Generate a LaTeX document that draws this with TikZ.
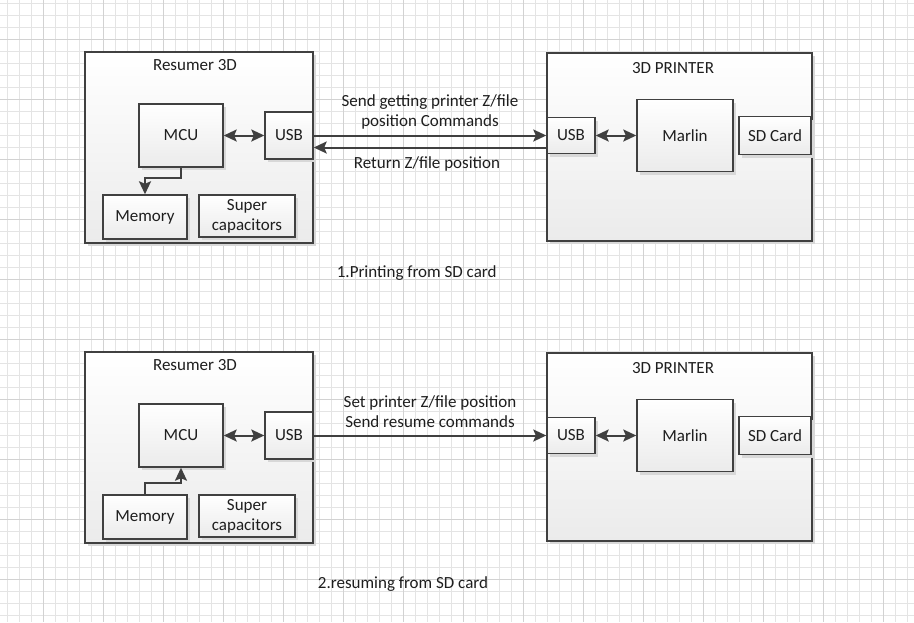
\documentclass[tikz,border=0pt]{standalone}
\usepackage{fontspec}
\setmainfont{Carlito}
\usetikzlibrary{arrows.meta,shadows,calc}
\definecolor{linegray}{HTML}{404040}
\definecolor{txtgray}{HTML}{1E1E1E}
\definecolor{boxbot}{HTML}{EBEBEB}
\definecolor{shadowgray}{HTML}{D8D8D8}
\definecolor{gridminor}{HTML}{E4E4E4}
\definecolor{gridmajor}{HTML}{D2D2D2}
\tikzset{
  blk/.style={draw=linegray, line width=1.4pt, top color=white, bottom color=boxbot,
    drop shadow={shadow xshift=3pt, shadow yshift=-3pt, fill=shadowgray, opacity=1},
    inner sep=0pt, text=txtgray, align=center, font=\fontsize{17}{20}\selectfont},
  lbl/.style={text=txtgray, align=center, inner sep=0pt, font=\fontsize{17}{20}\selectfont},
  tip/.style={Stealth[length=13pt,width=12pt,inset=2.5pt]},
  conn/.style={draw=linegray, line width=2pt, -{Stealth[length=13pt,width=12pt,inset=2.5pt]}},
  dconn/.style={draw=linegray, line width=2pt, {Stealth[length=13pt,width=12pt,inset=2.5pt]}-{Stealth[length=13pt,width=12pt,inset=2.5pt]}},
}
\begin{document}
\begin{tikzpicture}[x=1pt,y=-1pt]
\useasboundingbox (0,0) rectangle (914,622);
\fill[white] (0,0) rectangle (914,622);
% grid
\foreach \i in {0,...,75} {\draw[gridminor, line width=1pt] ({7.3+12*\i},0) -- ({7.3+12*\i},622);}
\foreach \i in {0,...,51} {\draw[gridminor, line width=1pt] (0,{3.3+12*\i}) -- (914,{3.3+12*\i});}
\foreach \i in {0,...,14} {\draw[gridmajor, line width=1pt] ({43.3+60*\i},0) -- ({43.3+60*\i},622);}
\foreach \i in {0,...,9} {\draw[gridmajor, line width=1pt] (0,{39.3+60*\i}) -- (914,{39.3+60*\i});}

% ===== Diagram 1 =====
\node[blk, minimum width=228pt, minimum height=191pt] (R1) at (199,147.5) {};
\node[lbl] (R1t) at (195,65) {Resumer 3D};
\node[blk, minimum width=84pt, minimum height=63pt] (MCU1) at (181,135.5) {MCU};
\node[blk, minimum width=48pt, minimum height=47pt] (USBa1) at (289,135.5) {USB};
\node[blk, minimum width=84pt, minimum height=44pt] (MEM1) at (145,217) {Memory};
\node[blk, minimum width=96pt, minimum height=42pt] (SC1) at (247,216) {Super\\capacitors};

\node[blk, minimum width=265pt, minimum height=188pt] (P1) at (679.5,147) {};
\node[lbl] (P1t) at (673,68) {3D PRINTER};
\node[blk, minimum width=48pt, minimum height=36pt] (USBb1) at (571,135.5) {USB};
\node[blk, minimum width=96pt, minimum height=72pt] (MAR1) at (685,135.5) {Marlin};
\node[blk, minimum width=72pt, minimum height=38pt] (SD1) at (775,135.5) {SD Card};

\draw[dconn] (MCU1.east) -- (USBa1.west);
\draw[dconn] (USBb1.east) -- (MAR1.west);
\draw[conn] (MCU1.south) -- ++(0,10) -| (MEM1.north);
\draw[conn] (USBa1.east) -- (USBb1.west);
\draw[conn] ([yshift=-12pt]USBb1.west) -- ([yshift=-12pt]USBa1.east);
\node[lbl] (L1a) at (430,111.7) {Send getting printer Z/file\\position Commands};
\node[lbl] (L1b) at (427,164) {Return Z/file position};
\node[lbl] (C1) at (416.7,273) {1.Printing from SD card};

% ===== Diagram 2 =====
\node[blk, minimum width=228pt, minimum height=191pt] (R2) at (199,447.5) {};
\node[lbl] (R2t) at (195,365) {Resumer 3D};
\node[blk, minimum width=84pt, minimum height=63pt] (MCU2) at (181,435.5) {MCU};
\node[blk, minimum width=48pt, minimum height=47pt] (USBa2) at (289,435.5) {USB};
\node[blk, minimum width=84pt, minimum height=44pt] (MEM2) at (145,517) {Memory};
\node[blk, minimum width=96pt, minimum height=42pt] (SC2) at (247,516) {Super\\capacitors};

\node[blk, minimum width=265pt, minimum height=188pt] (P2) at (679.5,447) {};
\node[lbl] (P2t) at (673,368) {3D PRINTER};
\node[blk, minimum width=48pt, minimum height=36pt] (USBb2) at (571,435.5) {USB};
\node[blk, minimum width=96pt, minimum height=72pt] (MAR2) at (685,435.5) {Marlin};
\node[blk, minimum width=72pt, minimum height=38pt] (SD2) at (775,435.5) {SD Card};

\draw[dconn] (MCU2.east) -- (USBa2.west);
\draw[dconn] (USBb2.east) -- (MAR2.west);
\draw[conn] (MEM2.north) -- ++(0,-11) -| (MCU2.south);
\draw[conn] (USBa2.east) -- (USBb2.west);
\node[lbl] (L2a) at (430,411.7) {Set printer Z/file position\\Send resume commands};
\node[lbl] (C2) at (403,584) {2.resuming from SD card};
\end{tikzpicture}
\end{document}
